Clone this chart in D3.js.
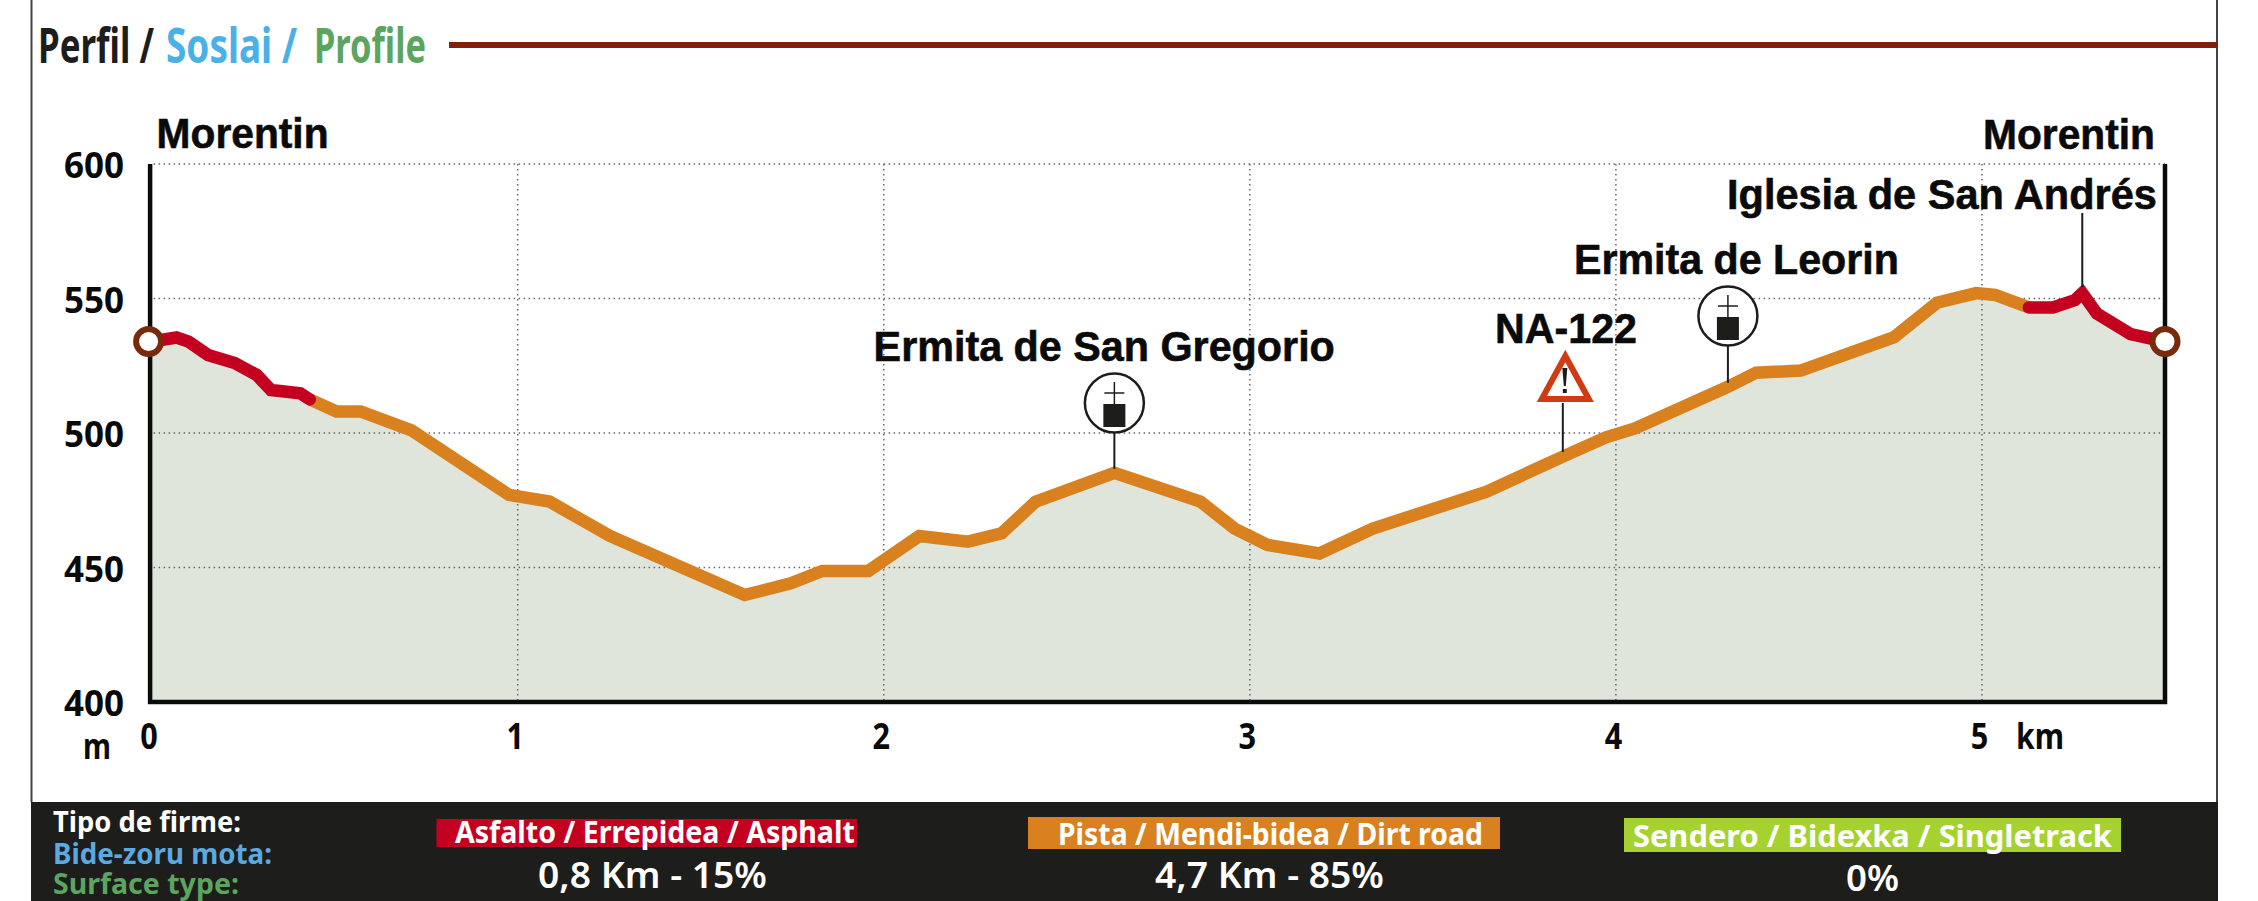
<!DOCTYPE html>
<html lang="en">
  <head>
    <meta charset="utf-8">
    <title>Perfil / Soslai / Profile</title>
    <script src="https://cdn.jsdelivr.net/npm/d3@7"></script>
    <style>
      html, body { margin: 0; padding: 0; background: #fff; overflow: hidden; }
      svg { display: block; }
      .grid line { stroke: #666; stroke-width: 1.5px; stroke-dasharray: 1.5 3.5; }
      .axis path, .axis line { display: none; }
    </style>
  </head>
  <body>
    <svg id="chart" width="2258" height="901"></svg>

    <script>
      // values
      var distanceKm = [0, 0.068, 0.101, 0.154, 0.227, 0.287, 0.326, 0.406, 0.432, 0.505, 0.571, 0.710,
        0.976, 1.087, 1.252, 1.62, 1.746, 1.832, 1.958, 2.097, 2.23, 2.322, 2.415, 2.63, 2.865, 2.958,
        3.048, 3.19, 3.336, 3.647, 3.855, 3.973, 4.052, 4.306, 4.383, 4.505, 4.76, 4.877, 4.984, 5.036,
        5.128, 5.194, 5.254, 5.274, 5.314, 5.406, 5.5];
      var elevationM = [534, 535.5, 534, 529, 526, 521.6, 516, 514.8, 512.5, 508, 508, 501,
        477, 474.5, 461.7, 439.8, 444.1, 448.7, 448.7, 461.7, 459.6, 462.7, 474.5, 485.2, 474.5, 464.5,
        458.4, 455.2, 464.5, 478.2, 491.2, 498.4, 501.7, 517.2, 522.4, 523.2, 535.6, 548.4, 552, 551.3,
        546.7, 546.7, 549.4, 552, 544.4, 536.8, 534];

      // first and last km of each stretch of road surface
      var surfaceStretches = [
        {name: "dirt", from: 0.432, to: 5.128},
        {name: "asphalt", from: 0, to: 0.432},
        {name: "asphalt", from: 5.128, to: 5.5}
      ];

      var elevationTicks = [400, 450, 500, 550, 600];
      var kmTicks = [0, 1, 2, 3, 4, 5];

      var legendNames = ["Asfalto / Errepidea / Asphalt", "Pista / Mendi-bidea / Dirt road", "Sendero / Bidexka / Singletrack"];
      var legendValues = ["0,8 Km - 15%", "4,7 Km - 85%", "0%"];

      var churches = [{km: 2.63, top: 433}, {km: 4.306, top: 346}];

      var colors = {asphalt: "#c3001f", dirt: "#d9801f", trail: "#a5d22f", ink: "#1d1d1b",
        fill: "#dfe5da", rule: "#7f2109", blue: "#4ab1e8", green: "#5ba55f", warn: "#d03a15"};

      var svg = d3.select("#chart");
      var sans = "'Liberation Sans', sans-serif";
      var condensed = "'Noto Sans', sans-serif";

      var x = d3.scaleLinear().domain([0, 5.5]).range([151.6, 2165]);
      var y = d3.scaleLinear().domain([400, 600]).range([702, 164]);

      var profile = distanceKm.map(function(d, i) { return {km: d, m: elevationM[i]}; });

      // text squeezed to the measured width, the originals are set in narrow faces
      function label(parent, text, left, right, baseline, size, fill, family, weight, heavy) {
        var t = parent.append("text")
          .style("font-family", family)
          .style("font-size", size + "px")
          .style("font-weight", weight || 700)
          .style("fill", fill)
          .text(text);
        if (heavy) t.style("stroke", fill).style("stroke-width", heavy + "px");
        var sx = (right - left) / t.node().getComputedTextLength();
        t.attr("transform", "translate(" + left + "," + baseline + ") scale(" + sx + ",1)");
        return t;
      }

      // frame and title
      svg.append("line").attr("x1", 31.5).attr("x2", 31.5).attr("y1", 0).attr("y2", 802).attr("stroke", "#444").attr("stroke-width", 2);
      svg.append("line").attr("x1", 2217).attr("x2", 2217).attr("y1", 0).attr("y2", 802).attr("stroke", "#444").attr("stroke-width", 2);

      label(svg, "Perfil /", 38, 154, 63, 49, colors.ink, condensed, 700);
      label(svg, "Soslai /", 166, 297, 63, 49, colors.blue, condensed, 700);
      label(svg, "Profile", 314, 426, 63, 49, colors.green, condensed, 700);
      svg.append("rect").attr("x", 449).attr("y", 42).attr("width", 1769).attr("height", 6).attr("fill", colors.rule);

      // filled profile
      var area = d3.area().x(function(d) { return x(d.km); }).y0(y(400)).y1(function(d) { return y(d.m); });
      svg.append("path").datum(profile).attr("d", area).attr("fill", colors.fill);

      // grid
      var grid = svg.append("g").attr("class", "grid");
      grid.selectAll(".h").data(elevationTicks.slice(1)).join("line")
        .attr("x1", x(0) + 2).attr("x2", x(5.5))
        .attr("y1", function(d) { return y(d); }).attr("y2", function(d) { return y(d); });
      grid.selectAll(".v").data(kmTicks.slice(1)).join("line")
        .attr("x1", function(d) { return x(d); }).attr("x2", function(d) { return x(d); })
        .attr("y1", y(600)).attr("y2", y(400));

      // axes lines
      svg.append("path")
        .attr("d", d3.line()([[x(0) - 1.5, y(600)], [x(0) - 1.5, y(400)], [x(5.5), y(400)], [x(5.5), y(600)]]))
        .attr("fill", "none").attr("stroke", "#0a0a0a").attr("stroke-width", 4.5);

      // tick labels
      var yAxis = svg.append("g").attr("class", "axis").attr("transform", "translate(124,0)")
        .call(d3.axisLeft(y).tickValues(elevationTicks).tickSize(0).tickPadding(0));
      yAxis.selectAll("text")
        .attr("x", 0).attr("dy", null)
        .attr("dominant-baseline", "central")
        .style("font-family", condensed).style("font-size", "35px").style("font-weight", 700).style("fill", "#0a0a0a");

      var xAxis = svg.append("g").attr("class", "axis").attr("transform", "translate(-3,749)")
        .call(d3.axisBottom(x).tickValues(kmTicks).tickFormat(d3.format("d")).tickSize(0).tickPadding(0));
      xAxis.selectAll("text")
        .attr("y", 0).attr("dy", null)
        .attr("transform", "scale(0.85,1)")
        .style("font-family", condensed).style("font-size", "36px").style("font-weight", 700).style("fill", "#0a0a0a");

      label(svg, "m", 83, 111, 759, 35, "#0a0a0a", condensed);
      label(svg, "km", 2016, 2064, 749, 35, "#0a0a0a", condensed);

      // surface line, split by stretch
      var line = d3.line().x(function(d) { return x(d.km); }).y(function(d) { return y(d.m); });
      svg.selectAll(".surface").data(surfaceStretches).join("path")
        .attr("class", "surface")
        .attr("d", function(s) {
          return line(profile.filter(function(d) { return d.km >= s.from && d.km <= s.to; }));
        })
        .attr("fill", "none")
        .attr("stroke", function(s) { return colors[s.name]; })
        .attr("stroke-width", 12.5)
        .attr("stroke-linejoin", "miter")
        .attr("stroke-linecap", function(s) { return s.name === "asphalt" ? "round" : "butt"; });

      // start and finish rings
      svg.selectAll(".ring").data([profile[0], profile[profile.length - 1]]).join("circle")
        .attr("class", "ring")
        .attr("cx", function(d) { return x(d.km) - (d.km === 0 ? 3 : 0); })
        .attr("cy", function(d) { return y(d.m); })
        .attr("r", 12.5)
        .attr("fill", "#fff")
        .attr("stroke", "#7a2a0c")
        .attr("stroke-width", 6);

      // stems and symbols
      function stem(km, top, bottom) {
        svg.append("line").attr("x1", x(km)).attr("x2", x(km)).attr("y1", top).attr("y2", bottom)
          .attr("stroke", colors.ink).attr("stroke-width", 2);
      }

      churches.forEach(function(c) {
        var cx = x(c.km);
        var elev = d3.least(profile, function(d) { return Math.abs(d.km - c.km); });
        stem(c.km, c.top, y(elev.m) - 4);
        svg.append("circle").attr("cx", cx).attr("cy", c.top - 30).attr("r", 29.5)
          .attr("fill", "#fff").attr("stroke", colors.ink).attr("stroke-width", 2.5);
        svg.append("rect").attr("x", cx - 11).attr("y", c.top - 29).attr("width", 22).attr("height", 23).attr("fill", colors.ink);
        svg.append("line").attr("x1", cx).attr("x2", cx).attr("y1", c.top - 51).attr("y2", c.top - 29)
          .attr("stroke", colors.ink).attr("stroke-width", 1.5);
        svg.append("line").attr("x1", cx - 10).attr("x2", cx + 10).attr("y1", c.top - 40).attr("y2", c.top - 40)
          .attr("stroke", colors.ink).attr("stroke-width", 1.5);
      });

      // NA-122 warning sign
      stem(3.855, 403, 452);
      svg.append("path")
        .attr("d", "M" + (x(3.855) + 2.5) + ",356 L" + (x(3.855) + 26) + ",399 L" + (x(3.855) - 21) + ",399 Z")
        .attr("fill", "#fff").attr("stroke", colors.warn).attr("stroke-width", 6).attr("stroke-linejoin", "miter");
      svg.append("path")
        .attr("d", "M" + (x(3.855) - 0.5) + ",368 L" + (x(3.855) + 4.5) + ",368 L" + (x(3.855) + 3) + ",386 L" + (x(3.855) + 1) + ",386 Z")
        .attr("fill", colors.ink);
      svg.append("rect").attr("x", x(3.855)).attr("y", 389).attr("width", 4).attr("height", 4).attr("fill", colors.ink);

      // Iglesia de San Andres stem
      stem(5.274, 213, 287);

      // place names
      label(svg, "Morentin", 156.6, 328.6, 148, 42, "#0a0a0a", sans, 700, 0.6);
      label(svg, "Morentin", 1983, 2155, 149, 42, "#0a0a0a", sans, 700, 0.6);
      label(svg, "Iglesia de San Andrés", 1727, 2157, 209, 42, "#0a0a0a", sans, 700, 0.6);
      label(svg, "Ermita de Leorin", 1574, 1899, 274, 42, "#0a0a0a", sans, 700, 0.6);
      label(svg, "NA-122", 1495, 1637, 343, 42, "#0a0a0a", sans, 700, 0.6);
      label(svg, "Ermita de San Gregorio", 873.6, 1335, 361, 42, "#0a0a0a", sans, 700, 0.6);

      // surface band
      svg.append("rect").attr("x", 31).attr("y", 802).attr("width", 2187).attr("height", 99).attr("fill", colors.ink);
      label(svg, "Tipo de firme:", 53, 241, 832, 29, "#fff", condensed, 700);
      label(svg, "Bide-zoru mota:", 53, 272, 864, 29, "#5aa9e0", condensed, 700);
      label(svg, "Surface type:", 53, 239, 894, 29, colors.green, condensed, 700);

      var boxes = [
        {left: 436.5, right: 857, top: 819, bottom: 847, fill: colors.asphalt, textLeft: 455, textRight: 855, base: 843, vLeft: 538, vRight: 767, vBase: 888},
        {left: 1028, right: 1500, top: 817, bottom: 849, fill: colors.dirt, textLeft: 1058, textRight: 1483, base: 845, vLeft: 1155, vRight: 1384, vBase: 888},
        {left: 1624, right: 2121, top: 818, bottom: 852, fill: colors.trail, textLeft: 1633, textRight: 2112, base: 847, vLeft: 1846, vRight: 1899, vBase: 891}
      ];
      boxes.forEach(function(b, i) {
        svg.append("rect").attr("x", b.left).attr("y", b.top).attr("width", b.right - b.left).attr("height", b.bottom - b.top).attr("fill", b.fill);
        label(svg, legendNames[i], b.textLeft, b.textRight, b.base, 30, "#fff", condensed, 700);
        label(svg, legendValues[i], b.vLeft, b.vRight, b.vBase, 36, "#fff", condensed, 600);
      });
    </script>
  </body>
</html>
